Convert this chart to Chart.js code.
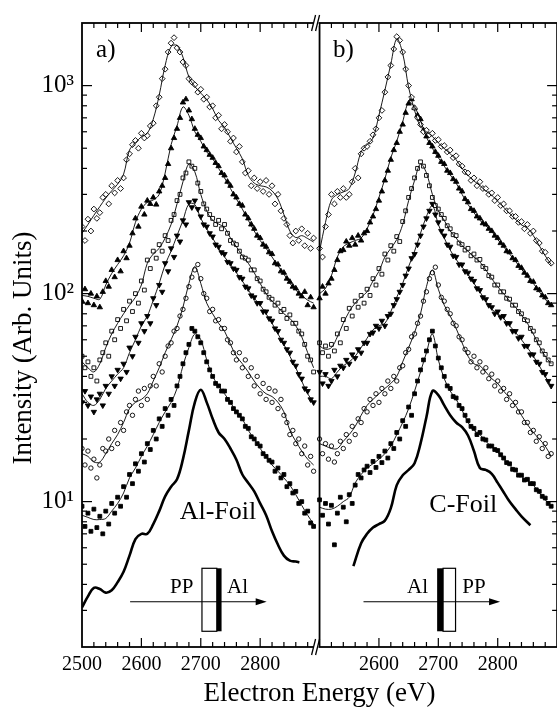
<!DOCTYPE html>
<html>
<head>
<meta charset="utf-8">
<script src="https://cdn.jsdelivr.net/npm/chart.js@4.4.0/dist/chart.umd.min.js"></script>
<style>
  html, body { margin: 0; padding: 0; background: #fff; overflow: hidden; }
  #wrap { width: 562px; height: 717px; }
</style>
</head>
<body>
<div id="wrap"><canvas id="c" width="562" height="717"></canvas></div>
<script>
// energies of the smooth fit curves (eV)
const fitE = [2500,2510,2520,2530,2540,2550,2560,2570,2580,2590,
              2600,2610,2620,2630,2640,2650,2660,2670,2680,2690,
              2700,2710,2720,2730,2740,2750,2760,2770,2780,2790,
              2800,2810,2820,2830,2840,2850,2860,2870,2880,2890];

// energies of the measured points (eV)
const ptE = [2500,2505,2510,2515,2520,2525,2530,2535,
             2540,2545,2550,2555,2560,2565,2570,2575,
             2580,2585,2590,2595,2600,2605,2610,2615,
             2620,2625,2630,2635,2640,2645,2650,2655,
             2660,2665,2670,2675,2680,2685,2690,2695,
             2700,2705,2710,2715,2720,2725,2730,2735,
             2740,2745,2750,2755,2760,2765,2770,2775,
             2780,2785,2790,2795,2800,2805,2810,2815,
             2820,2825,2830,2835,2840,2845,2850,2855,
             2860,2865,2870,2875,2880,2885,2890];

// ---- panel a (Al-foil) ----
const aDiamondFit = [195,215,238,262,288,312,336,375,490,530, 568,590,690,900,1250,1540,1560,1370,1100,990,
                     920,857,775,680,630,560,500,445,370,340, 330,326,312,285,240,200,186,190,184,177];
const aDiamondPts = [210,180,228,200,255,230,245,290, 300,270,330,305,350,320,360,440,
                     470,520,545,500,590,560,575,640, 660,800,880,1080,1200,1450,1600,1700,
                     1520,1450,1300,1250,1080,1040,1010,930, 960,860,880,790,800,700,720,620,
                     650,600,540,560,480,510,430,380, 390,330,360,320,345,310,350,300,
                     330,270,300,250,230,215,190,175, 200,180,205,170,195,165,185];

const aUpFit = [98,97,95,94,110,125,138,152,175,220, 255,275,282,300,380,520,640,790,720,600,
                540,480,445,400,360,320,285,255,225,200, 180,165,150,136,124,112,104,98,93,90];
const aUpPts = [92,105,90,100,88,97,86,102, 115,108,130,120,145,128,160,148,
                170,195,230,210,262,240,280,270, 290,268,310,330,360,420,500,560,
                620,700,830,860,760,690,620,580, 560,510,490,465,450,425,410,380,
                370,345,330,300,290,270,265,240, 230,215,205,190,185,172,168,158,
                155,140,138,128,126,118,114,108, 106,100,97,102,88,96,86];

const aSquareFit = [47,44,42,46,55,64,72,80,88,96, 110,140,155,165,185,215,270,345,420,385,
                    300,250,225,216,208,185,168,152,140,126, 112,100,92,86,80,76,70,62,52,44];
const aSquarePts = [50,44,47,40,44,38,48,52, 58,50,66,60,75,68,84,74,
                    92,82,100,90,115,104,145,132, 160,148,172,160,190,180,225,240,
                    280,300,360,380,430,410,400,340, 310,270,255,240,230,215,225,205,
                    215,195,180,175,172,160,150,148, 145,130,130,118,115,105,102,96,
                    94,88,90,82,84,76,79,72, 72,66,64,57,50,48,42];

const aDownFit = [33,30,29,31,35,38,41,44,52,60, 70,78,93,112,138,160,190,225,270,268,
                  230,205,185,165,150,138,126,115,104,95, 88,80,72,64,57,50,44,38,33,30];
const aDownPts = [30,34,29,32,27,31,33,29, 36,33,40,36,43,39,46,42,
                  55,50,62,58,72,66,78,72, 95,88,110,102,140,128,165,150,
                  190,178,225,215,275,260,280,255, 235,215,210,195,188,172,168,158,
                  155,142,140,132,130,120,118,108, 106,98,96,90,90,82,82,76,
                  74,68,66,60,58,54,52,47, 45,41,39,35,34,31,30];

const aCircleFit = [17,16.5,15.5,15.5,17,19,21,24,28,30, 31,33,38,44,52,60,70,86,112,135,
                    112,90,80,72,66,57,50,46,42,38, 35,33,32,30,27,22,19.5,17.5,16,15];
const aCirclePts = [18,15,17.5,14.5,16,13,15,18, 17.5,20,18,22,19,24,22,27,
                    29,26,31,34,29,35,31,36, 40,36,46,42,50,56,58,66,
                    68,78,84,95,108,120,130,138, 118,100,95,82,84,74,75,68,
                    68,60,58,52,48,52,44,48, 40,44,36,40,33,37,31,35,
                    30,34,28,31,26,24,21,22, 19,20,17,18.5,15,16.5,14];

const aFilledFit = [8.6,8.4,8.2,8.2,8.3,9,9.8,11,13,14.5, 16.5,18.5,21,24,27,30,35,45,55,64,
                    60,48,40,36,33,30,27,25,22,20, 18,16.5,15,14,13,12,10.8,9.6,8.6,7.8];
const aFilledPts = [9.5,7.6,8.8,7.2,9.2,7.5,8.5,7.0, 9.0,7.8,9.8,8.8,10.5,9.5,11.8,10.5,
                    13.5,12.2,15.2,14.0,17.0,15.5,19.0,17.8, 22,20,25,23,28,26,31,29,
                    36,40,46,52,57,68,66,62, 58,52,47,43,40,37,36,34,
                    34,31,30,28,27,26,25,23, 22.5,20.5,20,19,18.5,17,16.5,15.8,
                    15.5,14,14.5,13,13.5,11.8,12.2,11, 11.2,9.8,10,8.8,9,7.9,7.6];

const alFoilE = [2500,2510,2520,2530,2540,2550,2560,2570,2580,2590,2600,2610,2620,2630,2640,2650,2660,2670,2680,2690,
                 2700,2710,2720,2730,2740,2750,2760,2770,2780,2790,2800,2810,2820,2830,2840,2850,2860,2866];
const alFoil = [3.1,3.5,3.85,3.8,3.65,3.75,4.1,4.6,5.5,6.6, 7.0,7.0,7.8,9.0,10.6,11.8,12.8,16,22,30,
                34.5,30,25,21.5,20,18,15.9,13.5,12.3,11.2, 9.8,8.6,7.2,6.2,5.5,5.2,5.15,5.1];

// ---- panel b (C-foil) ----
const bDiamondFit = [160,220,282,300,308,320,380,480,520,560, 720,950,1270,1680,1430,980,760,635,600,570,
                     530,498,470,440,400,370,348,331,312,297, 278,260,243,228,214,207,190,170,152,138];
const bDiamondPts = [165,150,210,240,300,270,310,290, 320,290,300,345,400,360,470,500,
                     510,540,580,620,700,760,930,1100, 1250,1500,1720,1650,1450,1200,1000,880,
                     780,700,650,600,610,580,590,545, 550,510,515,480,490,450,460,420,
                     410,385,380,350,360,330,345,320, 320,300,305,280,290,265,270,250,
                     250,235,235,220,222,205,215,195, 200,180,175,160,158,145,140];

const bUpFit = [100,106,122,150,168,175,180,185,205,238, 290,356,450,540,670,830,790,680,565,500,
                450,410,372,340,300,268,245,225,212,199, 182,168,155,143,131,121,112,102,94,87];
const bUpPts = [95,108,100,112,118,130,145,160, 162,178,170,185,172,190,180,195,
                200,220,235,255,280,310,350,390, 440,490,530,600,650,740,820,860,
                780,720,690,610,570,530,510,480, 460,430,420,390,380,355,345,320,
                310,285,275,255,250,235,230,218, 215,205,200,190,185,175,170,160,
                158,148,145,136,133,126,122,115, 114,106,104,98,96,90,88];

const bSquareFit = [56,54,55,62,72,82,90,96,102,115, 128,150,165,182,215,280,350,420,380,300,
                    250,225,200,185,170,160,150,142,130,118, 108,100,92,86,79,72,64,56,50,46];
const bSquarePts = [58,52,56,50,57,53,64,58, 75,68,85,78,92,86,98,90,
                    105,98,118,110,132,124,155,145, 170,160,188,178,222,250,290,320,
                    360,400,430,410,370,330,290,265, 255,240,230,212,205,192,190,175,
                    172,162,165,152,155,145,146,135, 132,122,120,110,110,102,102,95,
                    94,88,88,82,80,75,74,68, 66,60,58,53,51,48,46];

const bDownFit = [40,40,39,42,45,47,50,55,61,67, 70,72,82,96,112,135,160,195,235,265,
                  215,185,162,146,134,124,112,102,92,84, 80,76,70,65,60,55,50,45,40,36];
const bDownPts = [42,37,41,36,38,43,40,45, 44,48,46,51,49,54,52,58,
                  58,64,65,70,68,74,70,78, 80,88,94,102,110,122,132,148,
                  155,172,190,210,230,250,270,240, 220,200,190,172,168,152,150,138,
                  138,128,126,118,115,106,104,96, 94,88,86,80,82,77,78,72,
                  72,66,66,61,62,56,56,51, 51,47,46,42,41,38,36];

const bCircleFit = [19,18.5,18,18,19.5,21,23,26,29,31, 33,35,37,40,47,55,65,80,108,130,
                    105,88,78,68,58,50,46,45,42,39, 37,34,31.5,29,26,23.5,21.5,20,18.5,16.5];
const bCirclePts = [20,17,19,16,18.5,15.5,17,19.5, 18,21,19.5,23,21,25,24,28,
                    27,31,29,33,30,35,33,38, 35,40,38,44,45,52,54,62,
                    64,72,78,92,102,118,126,134, 110,96,92,84,80,72,70,62,
                    60,54,52,47,50,44,47,42, 44,39,41,36,38,34,35,31,
                    33,29,30,27,27,24,24,21.5, 22,19.5,20.5,18,19,16.5,17];

const bFilledFit = [9.4,9.2,9.2,9.5,10,10.5,12.3,13.5,14.5,15.2, 16,17,18.5,21,24,28,34,42,52,64,
                    48,39,34,31,27.5,24,22,21,19.5,18.3, 17.3,16,15,14,13.2,12.6,12,11,10.2,9.4];
const bFilledPts = [10.2,8.6,9.8,7.8,9.6,6.2,8.8,10.5, 9.4,8.0,10.8,9.8,12.0,13.5,13.0,14.2,
                    14.8,13.8,15.6,14.6,16.5,15.4,17.5,16.2, 19.0,18.0,21.5,20.0,24.5,23.0,28.5,26.0,
                    33,38,43,48,53,60,66,56, 49,44,40,36,35,32,31.5,29,
                    28,26,24.5,23,22.5,21,21.5,20, 19.8,18.5,18.5,17.8,17.6,16.8,16.2,15.4,
                    15.2,14.3,14.2,13.4,13.4,12.7,12.8,12.2, 12.2,11.4,11.2,10.6,10.4,9.8,9.5];

const cFoilE = [2557,2570,2580,2590,2600,2610,2620,2630,2640,2650,2660,2670,2680,2690,2700,
                2710,2720,2730,2740,2750,2760,2770,2780,2790,2800,2810,2820,2830,2840,2855];
const cFoil = [4.9,6.3,7.0,7.5,7.8,8.1,9.3,12.0,13.4,14.2, 15.3,19.0,25.5,34,32.5,
               29,26,24,22.8,20.8, 17.5,14.5,14.2,13.6,12.3,11.1,10.0,9.2,8.5,7.7];

// tick labels
const tickLabelsA = [2500, 2600, 2700, 2800];
const tickLabelsB = [2600, 2700, 2800];
const yLabels = {10: '10\u00B9', 100: '10\u00B2', 1000: '10\u00B3'};

const SERIF = '"Liberation Serif", "Times New Roman", Times, serif';
const PANEL_B_SHIFT = 400; // panel b is drawn 400 eV to the right of panel a

const markers = [
  {pointStyle: 'rectRot', pointRadius: 2.9, pointBackgroundColor: '#fff'},
  {pointStyle: 'triangle', pointRadius: 3.1, pointBackgroundColor: '#000'},
  {pointStyle: 'rect', pointRadius: 2.7, pointBackgroundColor: '#fff'},
  {pointStyle: 'triangle', pointRadius: 3.1, pointBackgroundColor: '#000', pointRotation: 180},
  {pointStyle: 'circle', pointRadius: 2.2, pointBackgroundColor: '#fff'},
  {pointStyle: 'rect', pointRadius: 2.7, pointBackgroundColor: '#000'}
];

const panels = [
  {shift: 0,
   fits: [aDiamondFit, aUpFit, aSquareFit, aDownFit, aCircleFit, aFilledFit],
   pts: [aDiamondPts, aUpPts, aSquarePts, aDownPts, aCirclePts, aFilledPts],
   foilE: alFoilE, foil: alFoil},
  {shift: PANEL_B_SHIFT,
   fits: [bDiamondFit, bUpFit, bSquareFit, bDownFit, bCircleFit, bFilledFit],
   pts: [bDiamondPts, bUpPts, bSquarePts, bDownPts, bCirclePts, bFilledPts],
   foilE: cFoilE, foil: cFoil}
];

function xy(es, vs, shift) {
  return vs.slice(0, es.length).map((v, i) => ({x: es[i] + shift, y: v}));
}

const datasets = [];
panels.forEach(p => {
  p.pts.forEach((vals, k) => {
    datasets.push(Object.assign({
      data: xy(ptE, vals, p.shift),
      pointBorderColor: '#000',
      pointBorderWidth: 0.9,
      order: 2
    }, markers[k]));
  });
  p.fits.forEach(vals => {
    datasets.push({
      data: xy(fitE, vals, p.shift),
      showLine: true, pointRadius: 0, borderColor: '#000', borderWidth: 0.9,
      tension: 0.35, order: 1
    });
  });
  datasets.push({
    data: xy(p.foilE, p.foil, p.shift),
    showLine: true, pointRadius: 0, borderColor: '#000', borderWidth: 2.6,
    tension: 0.4, order: 0
  });
});

// frame, inward ticks, axis break, insets and labels
const decor = {
  id: 'decor',
  afterDatasetsDraw(chart) {
    const {ctx, chartArea: a, scales: {x, y}} = chart;
    const L = (x1, y1, x2, y2) => { ctx.beginPath(); ctx.moveTo(x1, y1); ctx.lineTo(x2, y2); ctx.stroke(); };
    ctx.save();
    ctx.strokeStyle = '#000';
    ctx.fillStyle = '#000';
    ctx.lineWidth = 1.8;
    ctx.strokeRect(a.left, a.top, a.right - a.left, a.bottom - a.top);
    const xb = x.getPixelForValue(2500 + PANEL_B_SHIFT);
    L(xb, a.top, xb, a.bottom);

    // y ticks on outer left and right
    ctx.lineWidth = 1.2;
    for (let d = 1; d <= 1000; d *= 10) {
      for (let m = 1; m <= 9; m++) {
        const v = m * d;
        if (v <= 2 || v >= 2000) continue;
        const py = y.getPixelForValue(v);
        const len = m === 1 ? 10 : 5;
        L(a.left, py, a.left + len, py);
        L(a.right, py, a.right - len, py);
      }
    }
    // x ticks top and bottom, both panels
    [0, PANEL_B_SHIFT].forEach(s => {
      for (let e = 2520; e <= 2880; e += 20) {
        const px = x.getPixelForValue(e + s);
        const len = e % 100 === 0 ? 9 : 5;
        L(px, a.bottom, px, a.bottom - len);
        L(px, a.top, px, a.top + len);
      }
    });

    // axis break marks
    [a.top, a.bottom].forEach(yy => {
      ctx.fillStyle = '#fff';
      ctx.fillRect(xb - 6, yy - 3, 5, 6);
      ctx.lineWidth = 1.3;
      L(xb - 8, yy + 8, xb - 4, yy - 8);
      L(xb - 4, yy + 8, xb, yy - 8);
    });

    // text labels
    ctx.fillStyle = '#000';
    ctx.textAlign = 'center';
    ctx.textBaseline = 'middle';
    const txt = (s, e, v, size) => {
      ctx.font = size + 'px ' + SERIF;
      ctx.fillText(s, x.getPixelForValue(e), y.getPixelForValue(v));
    };
    txt('a)', 2540, 1480, 25);
    txt('b)', 2540 + PANEL_B_SHIFT, 1480, 25);
    txt('Al-Foil', 2729, 8.9, 26);
    txt('C-Foil', 2742 + PANEL_B_SHIFT, 9.6, 26);
    txt('PP', 2668, 3.85, 21);
    txt('Al', 2762, 3.85, 21);
    txt('Al', 2665 + PANEL_B_SHIFT, 3.85, 21);
    txt('PP', 2760 + PANEL_B_SHIFT, 3.85, 21);

    // target schematics: arrow + foils
    const arrow = (e1, e2, v) => {
      const x1 = x.getPixelForValue(e1), x2 = x.getPixelForValue(e2), py = y.getPixelForValue(v);
      ctx.lineWidth = 1.1;
      L(x1, py, x2 - 8, py);
      ctx.beginPath();
      ctx.moveTo(x2, py); ctx.lineTo(x2 - 11, py - 3.5); ctx.lineTo(x2 - 11, py + 3.5);
      ctx.closePath(); ctx.fill();
    };
    const box = (e1, e2, v1, v2, filled) => {
      const x1 = x.getPixelForValue(e1), x2 = x.getPixelForValue(e2);
      const y1 = y.getPixelForValue(v2), y2 = y.getPixelForValue(v1);
      if (filled) ctx.fillRect(x1, y1, x2 - x1, y2 - y1);
      else { ctx.lineWidth = 1.2; ctx.strokeRect(x1, y1, x2 - x1, y2 - y1); }
    };
    arrow(2581, 2811, 3.3);
    box(2702, 2727, 2.38, 4.78, false);
    box(2727, 2735, 2.38, 4.78, true);
    arrow(2574 + PANEL_B_SHIFT, 2804 + PANEL_B_SHIFT, 3.3);
    box(2698 + PANEL_B_SHIFT, 2708 + PANEL_B_SHIFT, 2.38, 4.78, true);
    box(2708 + PANEL_B_SHIFT, 2729 + PANEL_B_SHIFT, 2.38, 4.78, false);

    // y axis title
    ctx.save();
    ctx.translate(24, 348);
    ctx.rotate(-Math.PI / 2);
    ctx.font = '27px ' + SERIF;
    ctx.fillText('Intensity (Arb. Units)', 0, 0);
    ctx.restore();
    ctx.restore();
  }
};

new Chart(document.getElementById('c'), {
  type: 'scatter',
  data: {datasets},
  options: {
    responsive: false,
    animation: false,
    events: [],
    layout: {padding: {top: 16, right: 2, left: 0, bottom: 0}},
    plugins: {legend: {display: false}, tooltip: {enabled: false}},
    scales: {
      x: {
        type: 'linear', min: 2500, max: 2900 + PANEL_B_SHIFT,
        afterBuildTicks: s => {
          s.ticks = tickLabelsA.concat(tickLabelsB.map(v => v + PANEL_B_SHIFT)).map(v => ({value: v}));
        },
        afterFit: s => { s.height = 70; },
        grid: {display: false, drawTicks: false},
        border: {display: false},
        ticks: {
          autoSkip: false, maxRotation: 0, padding: 6, color: '#000',
          font: {family: SERIF, size: 20},
          callback: v => String(v > 2900 ? v - PANEL_B_SHIFT : v)
        },
        title: {display: true, text: 'Electron Energy (eV)', color: '#000',
                font: {family: SERIF, size: 27}, padding: {top: 0, bottom: 7}}
      },
      y: {
        type: 'logarithmic', min: 2, max: 2000,
        afterBuildTicks: s => { s.ticks = [10, 100, 1000].map(v => ({value: v})); },
        afterFit: s => { s.width = 82; },
        grid: {display: false, drawTicks: false},
        border: {display: false},
        ticks: {
          autoSkip: false, padding: 8, color: '#000',
          font: {family: SERIF, size: 25},
          callback: v => yLabels[v] || ''
        }
      }
    }
  },
  plugins: [decor]
});
</script>
</body>
</html>
